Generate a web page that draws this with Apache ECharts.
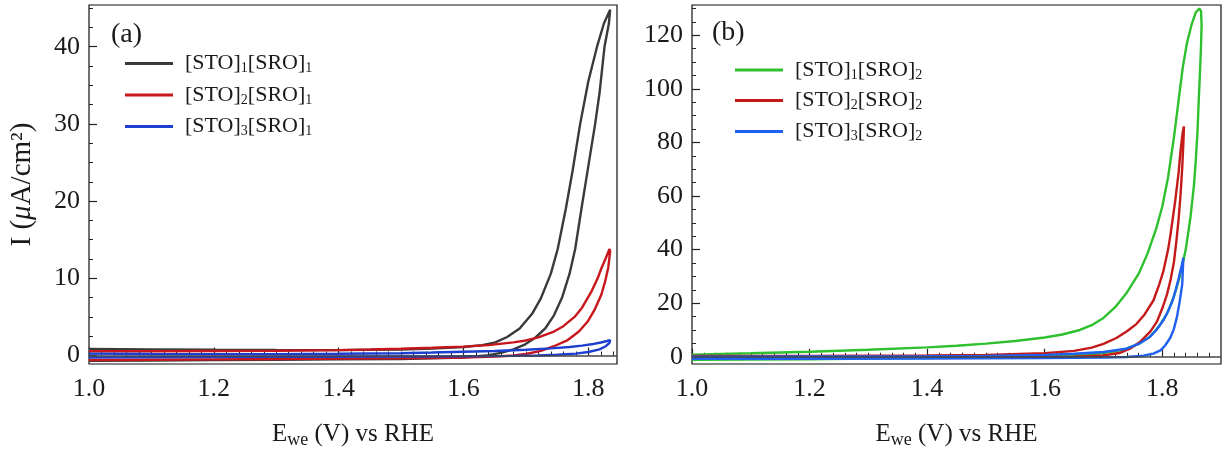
<!DOCTYPE html>
<html><head><meta charset="utf-8">
<script src="https://cdn.jsdelivr.net/npm/echarts@6/dist/echarts.min.js"></script>
<style>html,body{margin:0;padding:0;background:#fff}#c{width:1225px;height:454px}</style>
</head><body><div id="c"></div>
<script>
// ---------- data ----------
const legendA = ['[STO]1[SRO]1', '[STO]2[SRO]1', '[STO]3[SRO]1'];
const legendB = ['[STO]1[SRO]2', '[STO]2[SRO]2', '[STO]3[SRO]2'];
const xTicks = [1.0, 1.2, 1.4, 1.6, 1.8];
const yTicksA = [0, 10, 20, 30, 40];
const yTicksB = [0, 20, 40, 60, 80, 100, 120];

// panel (a): CV loops, [E (V), I (uA/cm2)]
const sto1sro1 = [[1.0,0.85],[1.1,0.8],[1.2,0.75],[1.3,0.72],[1.4,0.7],[1.5,0.78],[1.55,0.9],[1.6,1.1],[1.63,1.35],[1.651,1.7],[1.67,2.4],[1.69,3.5],[1.71,5.4],[1.724,7.4],[1.74,10.6],[1.751,13.8],[1.764,19],[1.775,24],[1.787,30],[1.80,35.5],[1.814,40],[1.825,43],[1.835,44.8],
  [1.833,43],[1.826,40],[1.818,34],[1.811,30],[1.80,24.5],[1.79,19.5],[1.779,13.8],[1.77,10.6],[1.758,7.5],[1.745,5.2],[1.731,3.5],[1.715,2.3],[1.699,1.45],[1.68,0.8],[1.66,0.35],[1.64,0.05],[1.6,-0.25],[1.5,-0.45],[1.4,-0.5],[1.3,-0.55],[1.2,-0.6],[1.1,-0.65],[1.0,-0.7]];
const sto2sro1 = [[1.0,0.55],[1.1,0.55],[1.2,0.58],[1.3,0.62],[1.4,0.7],[1.45,0.78],[1.5,0.88],[1.55,1.0],[1.6,1.15],[1.64,1.35],[1.68,1.7],[1.7,1.95],[1.72,2.35],[1.745,3.1],[1.76,3.8],[1.778,5.0],[1.79,6.2],[1.8045,8.2],[1.815,10.0],[1.821,11.3],[1.828,12.6],[1.834,13.8],
  [1.835,13.5],[1.832,11.4],[1.827,9.6],[1.821,7.9],[1.81,5.9],[1.799,4.4],[1.785,3.1],[1.767,2.0],[1.745,1.2],[1.724,0.6],[1.70,0.2],[1.68,0.0],[1.65,-0.15],[1.6,-0.25],[1.5,-0.35],[1.4,-0.4],[1.3,-0.45],[1.2,-0.5],[1.1,-0.55],[1.0,-0.6]];
const sto3sro1 = [[1.0,0.25],[1.1,0.2],[1.2,0.18],[1.3,0.18],[1.4,0.22],[1.5,0.3],[1.55,0.38],[1.6,0.48],[1.65,0.58],[1.7,0.74],[1.74,0.92],[1.77,1.1],[1.79,1.28],[1.805,1.45],[1.82,1.68],[1.83,1.88],[1.835,2.0],
  [1.834,1.65],[1.828,1.2],[1.818,0.8],[1.8,0.45],[1.78,0.25],[1.75,0.1],[1.72,0.0],[1.68,-0.05],[1.6,-0.1],[1.5,-0.13],[1.4,-0.16],[1.3,-0.18],[1.2,-0.2],[1.1,-0.22],[1.0,-0.25]];

// panel (b)
const sto1sro2 = [[1.0,0.8],[1.1,1.3],[1.2,1.9],[1.3,2.6],[1.4,3.5],[1.45,4.1],[1.5,4.9],[1.55,5.9],[1.6,7.2],[1.63,8.3],[1.66,10.0],[1.68,11.8],[1.70,14.5],[1.72,18.5],[1.74,24],[1.76,31],[1.775,38.5],[1.79,48],[1.80,56],[1.81,67],[1.82,82],[1.828,96],[1.835,108],[1.842,117],[1.85,124],[1.857,128.5],[1.863,130],
  [1.866,129],[1.867,124],[1.866,116],[1.8645,107.7],[1.862,95],[1.86,84],[1.857,73],[1.854,64],[1.848,52],[1.84,40],[1.83,30],[1.82,22.5],[1.808,16],[1.795,11.5],[1.779,7.5],[1.76,4.8],[1.739,3.0],[1.72,2.0],[1.693,1.2],[1.65,0.6],[1.6,0.2],[1.5,-0.2],[1.4,-0.5],[1.3,-0.7],[1.2,-0.9],[1.1,-1.0],[1.0,-1.1]];
const sto2sro2 = [[1.0,0.3],[1.2,0.35],[1.4,0.5],[1.5,0.7],[1.6,1.3],[1.65,2.2],[1.68,3.4],[1.70,4.8],[1.722,7.0],[1.74,9.5],[1.756,12.2],[1.77,15.8],[1.785,21],[1.795,27],[1.802,32],[1.81,40],[1.814,45.5],[1.822,58],[1.828,69],[1.831,76.6],[1.835,84],[1.837,86],
  [1.836,80],[1.834,70.4],[1.831,60],[1.828,51.7],[1.824,43],[1.82,35.5],[1.814,28.5],[1.808,23.2],[1.8,18],[1.791,13.1],[1.78,9.5],[1.762,5.5],[1.745,3.0],[1.727,1.4],[1.70,0.5],[1.65,0.0],[1.6,-0.2],[1.5,-0.3],[1.4,-0.4],[1.2,-0.5],[1.0,-0.6]];
const sto3sro2 = [[1.0,0.0],[1.2,0.1],[1.4,0.2],[1.5,0.35],[1.6,0.7],[1.65,1.1],[1.7,1.8],[1.739,3.0],[1.76,4.8],[1.779,7.4],[1.79,10],[1.802,13.6],[1.81,17],[1.817,20.6],[1.823,25],[1.828,29.3],[1.833,34],[1.836,37],
  [1.835,32],[1.834,27],[1.83,21],[1.825,14.8],[1.82,10.5],[1.814,7.2],[1.805,4.2],[1.797,2.4],[1.785,1.2],[1.768,0.4],[1.74,-0.1],[1.7,-0.3],[1.6,-0.5],[1.5,-0.6],[1.4,-0.7],[1.2,-0.8],[1.0,-0.8]];

// ---------- styling ----------
const FONT = 'Liberation Serif';
const TXT = '#1a1a1a';
const colorsA = ['#3a3a3a', '#c8161d', '#1c3fcf'];
const colorsB = ['#2ec02e', '#c41a1a', '#2060f0'];
const xRange = { a: [1.0, 1.846], b: [1.0, 1.9] };
const yRange = { a: [-1.1, 45.4], b: [-2.7, 131.3] };

function minors(major, step, lo, hi) {
  const out = [];
  const start = Math.ceil(lo / step - 1e-9);
  for (let k = start; k * step <= hi + 1e-9; k++) {
    const v = +(k * step).toFixed(6);
    if (v <= lo || v >= hi) continue;
    if (major.some(m => Math.abs(m - v) < 1e-6)) continue;
    out.push(v);
  }
  return out;
}

const chart = echarts.init(document.getElementById('c'), null, { renderer: 'canvas' });

const grids = [
  { left: 89, right: 608, top: 5, bottom: 88.5, show: true, borderColor: '#111', borderWidth: 1.2, backgroundColor: 'transparent' },
  { left: 692, right: 4, top: 5, bottom: 88, show: true, borderColor: '#111', borderWidth: 1.2, backgroundColor: 'transparent' }
];

const xName = '{m|E}{s|we}{m| (V) vs RHE}';
const nameRich = {
  m: { fontFamily: FONT, fontSize: 25, color: TXT },
  s: { fontFamily: FONT, fontSize: 18, color: TXT, padding: [12, 0, 0, 0] },
  y: { fontFamily: FONT, fontSize: 29, color: TXT },
  it: { fontFamily: FONT, fontSize: 29, color: TXT, fontStyle: 'italic' }
};

function xMajor(gi, key) {
  return {
    gridIndex: gi, type: 'value', min: xRange[key][0], max: xRange[key][1], position: 'bottom',
    axisLine: { show: false }, splitLine: { show: false },
    axisTick: { show: true, inside: true, length: 8, customValues: xTicks, lineStyle: { color: '#222', width: 1.2 } },
    axisLabel: { customValues: xTicks, formatter: v => v.toFixed(1), margin: 12, fontFamily: FONT, fontSize: 26, color: TXT },
    name: xName, nameLocation: 'middle', nameGap: 55,
    nameTextStyle: { rich: nameRich }
  };
}
function xMinor(gi, key) {
  return {
    gridIndex: gi, type: 'value', min: xRange[key][0], max: xRange[key][1], position: 'bottom',
    axisLine: { show: false }, splitLine: { show: false },
    axisTick: { show: true, inside: true, length: 4, customValues: minors(xTicks, 0.02, xRange[key][0], xRange[key][1]), lineStyle: { color: '#222', width: 1 } },
    axisLabel: { show: false }
  };
}
function yMajor(gi, key, ticks, withName) {
  const o = {
    gridIndex: gi, type: 'value', min: yRange[key][0], max: yRange[key][1], position: 'left',
    axisLine: { show: false }, splitLine: { show: false },
    axisTick: { show: true, inside: true, length: 8, customValues: ticks, lineStyle: { color: '#222', width: 1.2 } },
    axisLabel: { customValues: ticks, margin: 9, fontFamily: FONT, fontSize: 26, color: TXT }
  };
  if (withName) {
    o.name = '{y|I (}{it|μ}{y|A/cm²)}';
    o.nameLocation = 'middle';
    o.nameGap = 52;
    o.nameRotate = 90;
    o.nameTextStyle = { rich: nameRich };
  }
  return o;
}
function yMinor(gi, key, ticks, step) {
  return {
    gridIndex: gi, type: 'value', min: yRange[key][0], max: yRange[key][1], position: 'left', offset: 0,
    axisLine: { show: false }, splitLine: { show: false },
    axisTick: { show: true, inside: true, length: 4, customValues: minors(ticks, step, yRange[key][0], yRange[key][1]), lineStyle: { color: '#222', width: 1 } },
    axisLabel: { show: false }
  };
}

const xAxes = [xMajor(0, 'a'), xMinor(0, 'a'), xMajor(1, 'b'), xMinor(1, 'b')];
const yAxes = [yMajor(0, 'a', yTicksA, true), yMinor(0, 'a', yTicksA, 2.5), yMajor(1, 'b', yTicksB, false), yMinor(1, 'b', yTicksB, 5)];

const zeroLine = {
  silent: true, symbol: 'none', label: { show: false },
  lineStyle: { color: '#444', width: 1.5, type: 'solid' },
  data: [{ yAxis: 0 }]
};

function mk(name, data, color, xi, yi, withZero) {
  const s = {
    name, type: 'line', data, xAxisIndex: xi, yAxisIndex: yi,
    showSymbol: false, symbol: 'none', smooth: false,
    lineStyle: { color, width: 2.4 }, itemStyle: { color },
    emphasis: { disabled: true }
  };
  if (withZero) s.markLine = zeroLine;
  return s;
}

const dataA = [sto1sro1, sto2sro1, sto3sro1];
const dataB = [sto1sro2, sto2sro2, sto3sro2];
const series = [];
legendA.forEach((n, i) => series.push(mk(n, dataA[i], colorsA[i], 0, 0, i === 0)));
legendB.forEach((n, i) => series.push(mk(n, dataB[i], colorsB[i], 2, 2, i === 0)));

const legRich = {
  g: { width: 7 },
  s: { fontFamily: FONT, fontSize: 14, color: TXT, padding: [10, 0, 0, 0] }
};
function leg(name, left, cy) {
  return {
    data: [name], left, top: cy - 13, padding: 0, icon: 'rect', itemWidth: 48, itemHeight: 3,
    selectedMode: false,
    textStyle: { fontFamily: FONT, fontSize: 22, color: TXT, lineHeight: 26, rich: legRich },
    formatter: n => '{g|}' + n.replace(/\](\d)/g, ']{s|$1}')
  };
}
const legendPosA = [63.5, 95, 126.5];
const legendPosB = [70, 100.5, 131.5];
const legends = [];
legendA.forEach((n, i) => legends.push(leg(n, 125, legendPosA[i])));
legendB.forEach((n, i) => legends.push(leg(n, 735, legendPosB[i])));

chart.setOption({
  animation: false,
  backgroundColor: '#fff',
  grid: grids,
  xAxis: xAxes,
  yAxis: yAxes,
  legend: legends,
  series,
  graphic: [
    { type: 'text', left: 111, top: 21, style: { text: '(a)', fontFamily: FONT, fontSize: 28, fill: TXT } },
    { type: 'text', left: 712, top: 19, style: { text: '(b)', fontFamily: FONT, fontSize: 28, fill: TXT } }
  ]
});
</script></body></html>
